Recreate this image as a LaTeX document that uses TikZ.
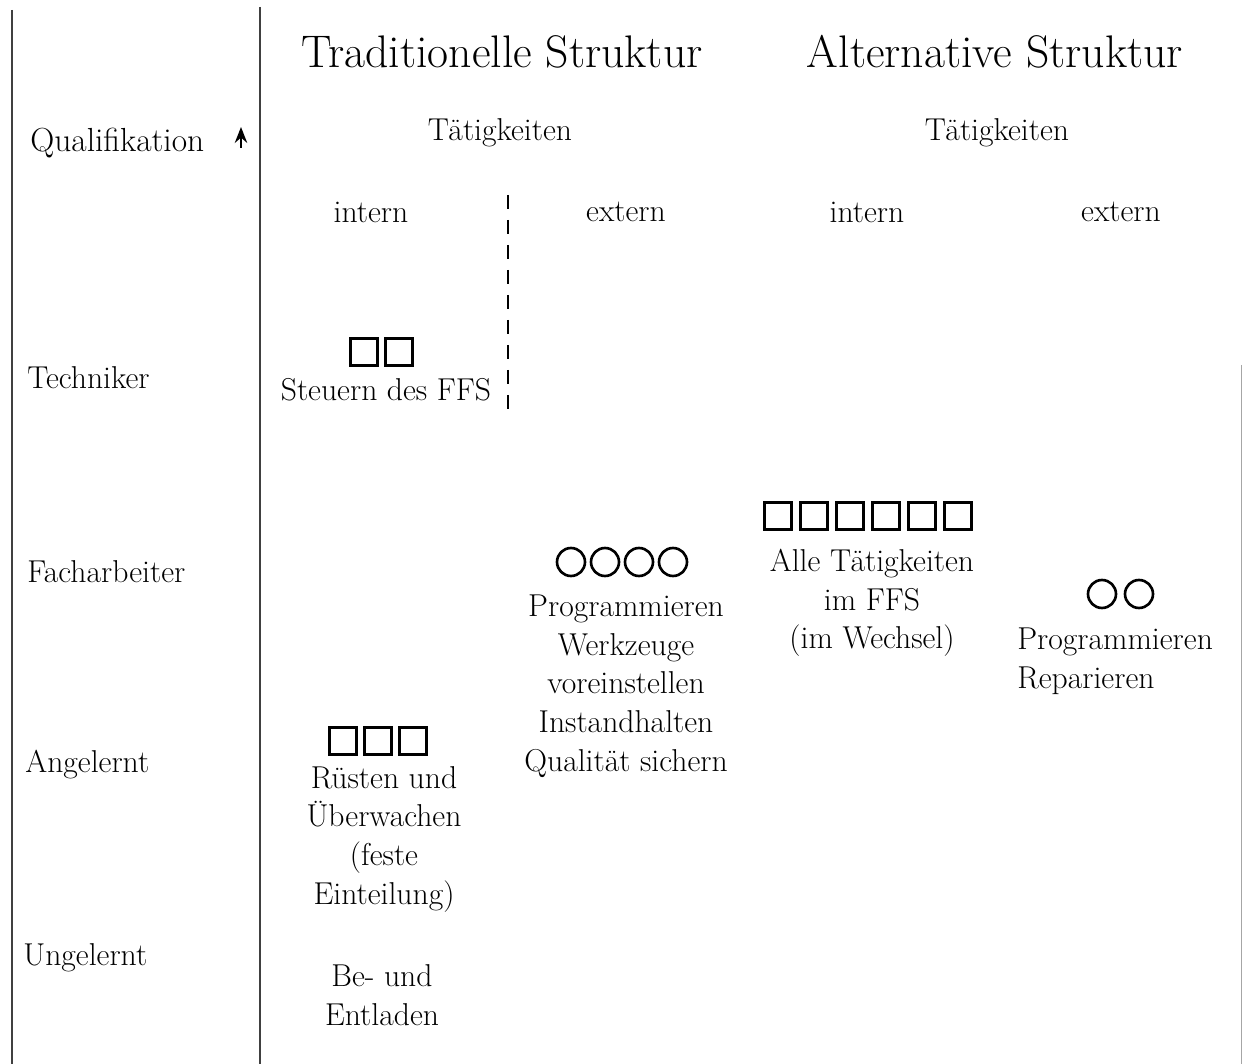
\documentclass[tikz,border=0pt]{standalone}
\usetikzlibrary{arrows.meta}
\begin{document}
\begin{tikzpicture}[x=0.02cm,y=-0.02cm,
        txt/.style={font=\fontsize{18}{22}\selectfont, align=center, inner sep=0pt},
        head/.style={font=\fontsize{26}{30}\selectfont, inner sep=0pt},
        sq/.style={draw, line width=1.5pt, minimum size=0.54cm, inner sep=0pt, outer sep=0pt},
        rnd/.style={draw, circle, line width=1.5pt, minimum size=0.56cm, inner sep=0pt, outer sep=0pt}]
        \useasboundingbox (0,0) rectangle (1242,1064);
        % Rahmenlinien
        \draw[line width=1.1pt, black!75] (12,10)--(12,1064);
        \draw[line width=1.1pt, black!75] (260,7)--(260,1064);
        \draw[line width=0.5pt, black!35] (1241,365)--(1241,1064);
        \draw[line width=1.2pt, dash pattern=on 0.28cm off 0.22cm] (508,195)--(508,410);
        % Kopf
        \node[head] (trad) at (502,52) {Traditionelle Struktur};
        \node[head] (alt) at (995,52) {Alternative Struktur};
        \node[txt, anchor=west, font=\fontsize{19}{22}\selectfont] (quali) at (30,143) {Qualifikation};
        \draw[-{Stealth[length=9pt,width=7pt]}, line width=1.4pt] (241,148)--(241,127);
        \node[txt] (taetA) at (500,133) {Tätigkeiten};
        \node[txt] (taetB) at (997,133) {Tätigkeiten};
        \node[txt] (intA) at (371,212) {intern};
        \node[txt] (extA) at (626,212) {extern};
        \node[txt] (intB) at (867,212) {intern};
        \node[txt] (extB) at (1121,212) {extern};
        % Qualifikationsstufen
        \node[txt, anchor=west] (tech) at (27,378) {Techniker};
        \node[txt, anchor=west] (fach) at (27,572) {Facharbeiter};
        \node[txt, anchor=west] (angel) at (25,765) {Angelernt};
        \node[txt, anchor=west] (ungel) at (23,958) {Ungelernt};
        % traditionell, intern
        \foreach \i in {0,1}{
            \node[sq] (sqT\i) at (364+\i*35,352) {};
        }
        \node[txt] (steuern) at (386,390) {Steuern des FFS};
        \foreach \i in {0,...,2}{
            \node[sq] (sqA\i) at (343+\i*35,741) {};
        }
        \node[txt] (ruesten) at (384,839) {Rüsten und\\Überwachen\\(feste\\Einteilung)};
        \node[txt] (laden) at (382,995) {Be- und\\Entladen};
        % traditionell, extern
        \foreach \i in {0,...,3}{
            \node[rnd] (ciA\i) at (571+\i*34,562) {};
        }
        \node[txt] (progA) at (626,686) {Programmieren\\Werkzeuge\\voreinstellen\\Instandhalten\\Qualität sichern};
        % alternativ
        \foreach \i in {0,...,5}{
            \node[sq] (sqB\i) at (778+\i*36,516) {};
        }
        \node[txt] (alle) at (872,603) {Alle Tätigkeiten\\im FFS\\(im Wechsel)};
        \foreach \i in {0,1}{
            \node[rnd] (ciB\i) at (1102+\i*37,594) {};
        }
        \node[txt, align=left, anchor=west] (progB) at (1017,661) {Programmieren\\Reparieren};
    \end{tikzpicture}
\end{document}
